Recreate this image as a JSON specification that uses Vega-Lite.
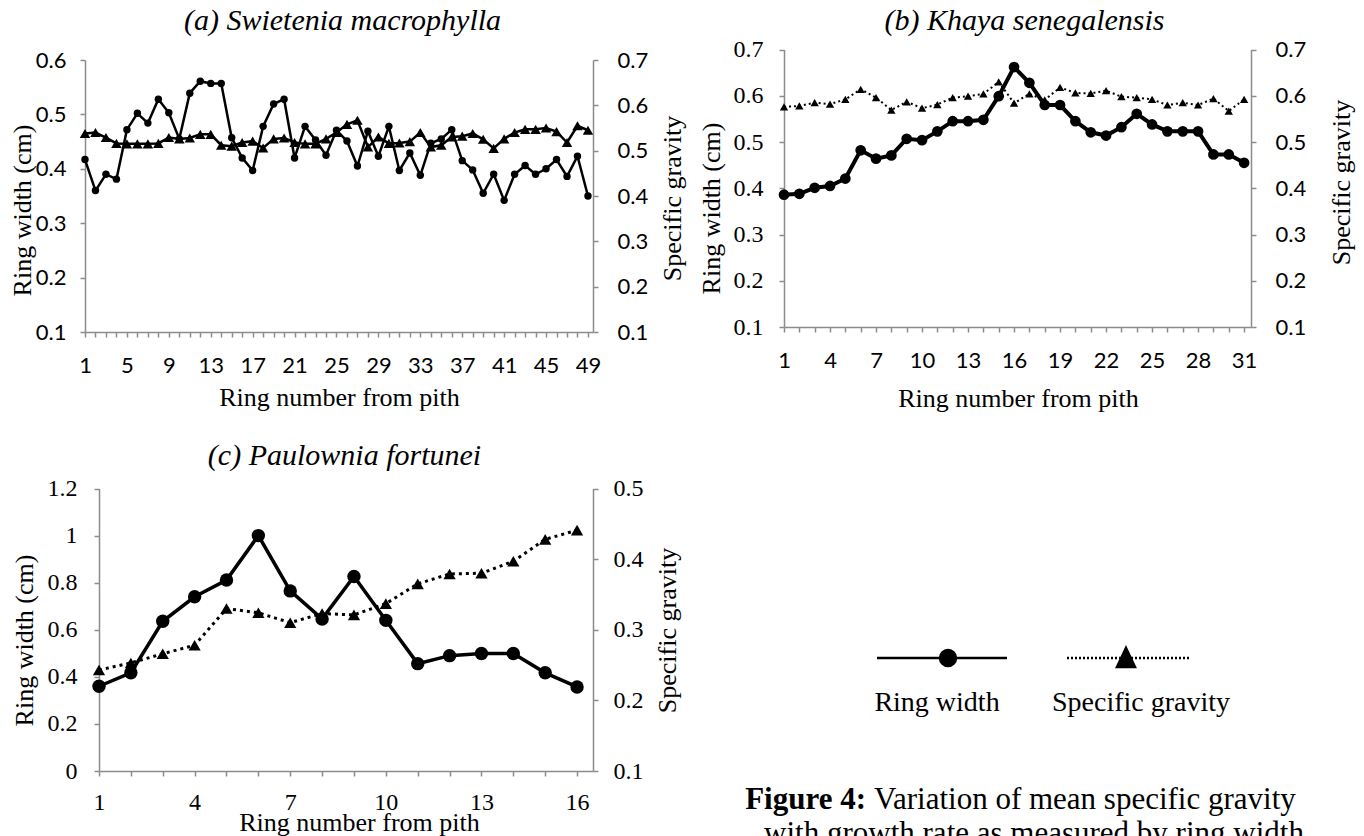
{
  "$schema": "https://vega.github.io/schema/vega-lite/v6.json",
  "width": 1364,
  "height": 836,
  "autosize": {"type": "none"},
  "padding": 0,
  "background": "white",
  "config": {
    "view": {"stroke": null},
    "axis": {"grid": false, "domainColor": "#8c8c8c", "tickColor": "#8c8c8c", "domainWidth": 1.5, "tickWidth": 1.5, "tickSize": 5, "labelColor": "#000000", "titleColor": "#000000", "titleFont": "Liberation Serif", "titleFontSize": 26, "titleFontWeight": "normal", "labelOverlap": false, "labelFlush": false}
  },
  "datasets": {
    "a": [
      {"ring":1,"rw":0.417,"sg":0.538},{"ring":2,"rw":0.36,"sg":0.540},{"ring":3,"rw":0.39,"sg":0.529},{"ring":4,"rw":0.381,"sg":0.516},{"ring":5,"rw":0.472,"sg":0.515},{"ring":6,"rw":0.502,"sg":0.515},{"ring":7,"rw":0.484,"sg":0.515},{"ring":8,"rw":0.528,"sg":0.516},{"ring":9,"rw":0.503,"sg":0.529},{"ring":10,"rw":0.455,"sg":0.526},
      {"ring":11,"rw":0.539,"sg":0.528},{"ring":12,"rw":0.561,"sg":0.536},{"ring":13,"rw":0.557,"sg":0.536},{"ring":14,"rw":0.557,"sg":0.512},{"ring":15,"rw":0.457,"sg":0.510},{"ring":16,"rw":0.42,"sg":0.518},{"ring":17,"rw":0.397,"sg":0.521},{"ring":18,"rw":0.478,"sg":0.506},{"ring":19,"rw":0.519,"sg":0.526},{"ring":20,"rw":0.528,"sg":0.528},
      {"ring":21,"rw":0.42,"sg":0.518},{"ring":22,"rw":0.478,"sg":0.515},{"ring":23,"rw":0.453,"sg":0.515},{"ring":24,"rw":0.425,"sg":0.526},{"ring":25,"rw":0.471,"sg":0.540},{"ring":26,"rw":0.451,"sg":0.558},{"ring":27,"rw":0.405,"sg":0.567},{"ring":28,"rw":0.469,"sg":0.508},{"ring":29,"rw":0.423,"sg":0.530},{"ring":30,"rw":0.478,"sg":0.516},
      {"ring":31,"rw":0.397,"sg":0.517},{"ring":32,"rw":0.429,"sg":0.520},{"ring":33,"rw":0.388,"sg":0.540},{"ring":34,"rw":0.447,"sg":0.508},{"ring":35,"rw":0.455,"sg":0.512},{"ring":36,"rw":0.472,"sg":0.530},{"ring":37,"rw":0.415,"sg":0.532},{"ring":38,"rw":0.398,"sg":0.538},{"ring":39,"rw":0.355,"sg":0.525},{"ring":40,"rw":0.39,"sg":0.505},
      {"ring":41,"rw":0.342,"sg":0.526},{"ring":42,"rw":0.39,"sg":0.540},{"ring":43,"rw":0.406,"sg":0.547},{"ring":44,"rw":0.39,"sg":0.547},{"ring":45,"rw":0.4,"sg":0.550},{"ring":46,"rw":0.417,"sg":0.542},{"ring":47,"rw":0.386,"sg":0.518},{"ring":48,"rw":0.423,"sg":0.555},{"ring":49,"rw":0.35,"sg":0.545}
    ],
    "b": [
      {"ring":1,"rw":0.386,"sg":0.576},{"ring":2,"rw":0.388,"sg":0.578},{"ring":3,"rw":0.401,"sg":0.585},{"ring":4,"rw":0.405,"sg":0.582},{"ring":5,"rw":0.421,"sg":0.592},{"ring":6,"rw":0.482,"sg":0.614},{"ring":7,"rw":0.464,"sg":0.596},{"ring":8,"rw":0.471,"sg":0.569},{"ring":9,"rw":0.507,"sg":0.587},{"ring":10,"rw":0.504,"sg":0.573},
      {"ring":11,"rw":0.523,"sg":0.581},{"ring":12,"rw":0.545,"sg":0.596},{"ring":13,"rw":0.545,"sg":0.599},{"ring":14,"rw":0.548,"sg":0.604},{"ring":15,"rw":0.599,"sg":0.630},{"ring":16,"rw":0.662,"sg":0.584},{"ring":17,"rw":0.628,"sg":0.604},{"ring":18,"rw":0.58,"sg":0.591},{"ring":19,"rw":0.58,"sg":0.618},{"ring":20,"rw":0.545,"sg":0.606},
      {"ring":21,"rw":0.521,"sg":0.605},{"ring":22,"rw":0.514,"sg":0.611},{"ring":23,"rw":0.532,"sg":0.598},{"ring":24,"rw":0.561,"sg":0.596},{"ring":25,"rw":0.538,"sg":0.592},{"ring":26,"rw":0.523,"sg":0.580},{"ring":27,"rw":0.523,"sg":0.585},{"ring":28,"rw":0.523,"sg":0.580},{"ring":29,"rw":0.473,"sg":0.594},{"ring":30,"rw":0.473,"sg":0.567},
      {"ring":31,"rw":0.455,"sg":0.592}
    ],
    "c": [
      {"ring":1,"rw":0.36,"sg":0.243},{"ring":2,"rw":0.417,"sg":0.253},{"ring":3,"rw":0.636,"sg":0.266},{"ring":4,"rw":0.74,"sg":0.278},{"ring":5,"rw":0.811,"sg":0.330},{"ring":6,"rw":1.0,"sg":0.324},{"ring":7,"rw":0.765,"sg":0.310},{"ring":8,"rw":0.646,"sg":0.323},
      {"ring":9,"rw":0.826,"sg":0.321},{"ring":10,"rw":0.64,"sg":0.337},{"ring":11,"rw":0.456,"sg":0.365},{"ring":12,"rw":0.49,"sg":0.379},{"ring":13,"rw":0.499,"sg":0.380},{"ring":14,"rw":0.499,"sg":0.397},{"ring":15,"rw":0.417,"sg":0.428},{"ring":16,"rw":0.357,"sg":0.441}
    ],
    "caption": [
      {"part":"label","line":"1","text":"Figure 4:"},
      {"part":"body","line":"1","text":"Variation of mean specific gravity"},
      {"part":"tail","line":"2","text":"with growth rate as measured by ring width"}
    ]
  },
  "layer": [
    {
      "data": {"name": "a"},
      "mark": {"type": "line", "color": "black", "strokeWidth": 2.5, "point": {"filled": true, "shape": "circle", "size": 55, "color": "black"}},
      "encoding": {
        "x": {"field": "ring", "type": "quantitative", "scale": {"domain": [1, 49.48], "range": [85, 593], "nice": false, "zero": false},
          "axis": {"orient": "bottom", "offset": -504, "values": [1,2,3,4,5,6,7,8,9,10,11,12,13,14,15,16,17,18,19,20,21,22,23,24,25,26,27,28,29,30,31,32,33,34,35,36,37,38,39,40,41,42,43,44,45,46,47,48,49], "format": "d", "labelExpr": "(datum.value - 1) % 4 === 0 ? datum.label : ''", "labelFont": "Lato", "labelFontSize": 22, "labelBaseline": "middle", "labelPadding": 28, "title": "Ring number from pith", "titleX": 339, "titleY": 65, "titleBaseline": "middle", "titleAlign": "center"}},
        "y": {"field": "rw", "type": "quantitative", "scale": {"domain": [0.1, 0.6], "range": [332, 60], "nice": false, "zero": false},
          "axis": {"orient": "left", "offset": -85, "values": [0.1,0.2,0.3,0.4,0.5,0.6], "format": ".1~f", "labelFont": "Lato", "labelFontSize": 22, "labelPadding": 14, "title": "Ring width  (cm)", "titleX": -63, "titleY": 210, "titleAngle": -90, "titleBaseline": "middle", "titleAlign": "center"}}
      }
    },
    {
      "data": {"name": "a"},
      "mark": {"type": "line", "color": "black", "strokeWidth": 2.5, "point": {"filled": true, "shape": "triangle-up", "size": 110, "color": "black"}},
      "encoding": {
        "x": {"field": "ring", "type": "quantitative", "scale": {"domain": [1, 49.48], "range": [85, 593], "nice": false, "zero": false},
          "axis": {"orient": "top", "offset": 0, "domain": false, "ticks": false, "labels": false, "title": "(a) Swietenia macrophylla", "titleFont": "Liberation Serif", "titleFontStyle": "italic", "titleFontSize": 30, "titleX": 342, "titleY": 20, "titleBaseline": "middle", "titleAlign": "center"}},
        "y": {"field": "sg", "type": "quantitative", "scale": {"domain": [0.1, 0.7], "range": [332, 60], "nice": false, "zero": false},
          "axis": {"orient": "right", "offset": -771, "values": [0.1,0.2,0.3,0.4,0.5,0.6,0.7], "format": ".1~f", "labelFont": "Lato", "labelFontSize": 22, "labelPadding": 19, "title": "Specific gravity", "titleX": 79, "titleY": 198, "titleAngle": -90, "titleBaseline": "middle", "titleAlign": "center"}}
      }
    },
    {
      "data": {"name": "b"},
      "mark": {"type": "line", "color": "black", "strokeWidth": 4, "point": {"filled": true, "shape": "circle", "size": 115, "color": "black"}},
      "encoding": {
        "x": {"field": "ring", "type": "quantitative", "scale": {"domain": [1, 31.45], "range": [784, 1251], "nice": false, "zero": false},
          "axis": {"orient": "bottom", "offset": -509, "values": [1,2,3,4,5,6,7,8,9,10,11,12,13,14,15,16,17,18,19,20,21,22,23,24,25,26,27,28,29,30,31], "format": "d", "labelExpr": "(datum.value - 1) % 3 === 0 ? datum.label : ''", "labelFont": "Lato", "labelFontSize": 22, "labelBaseline": "middle", "labelPadding": 28, "title": "Ring number from pith", "titleX": 1018, "titleY": 71, "titleBaseline": "middle", "titleAlign": "center"}},
        "y": {"field": "rw", "type": "quantitative", "scale": {"domain": [0.1, 0.7], "range": [327, 49.5], "nice": false, "zero": false},
          "axis": {"orient": "left", "offset": -784, "values": [0.1,0.2,0.3,0.4,0.5,0.6,0.7], "format": ".1~f", "labelFont": "Liberation Serif", "labelFontSize": 24, "labelPadding": 16, "title": "Ring width (cm)", "titleX": -73, "titleY": 208, "titleAngle": -90, "titleBaseline": "middle", "titleAlign": "center"}}
      }
    },
    {
      "data": {"name": "b"},
      "mark": {"type": "line", "color": "black", "strokeWidth": 2, "strokeDash": [2, 3], "point": {"filled": true, "shape": "triangle-up", "size": 70, "color": "black"}},
      "encoding": {
        "x": {"field": "ring", "type": "quantitative", "scale": {"domain": [1, 31.45], "range": [784, 1251], "nice": false, "zero": false},
          "axis": {"orient": "top", "offset": 0, "domain": false, "ticks": false, "labels": false, "title": "(b) Khaya senegalensis", "titleFont": "Liberation Serif", "titleFontStyle": "italic", "titleFontSize": 30, "titleX": 1024, "titleY": 20, "titleBaseline": "middle", "titleAlign": "center"}},
        "y": {"field": "sg", "type": "quantitative", "scale": {"domain": [0.1, 0.7], "range": [327, 49.5], "nice": false, "zero": false},
          "axis": {"orient": "right", "offset": -113, "values": [0.1,0.2,0.3,0.4,0.5,0.6,0.7], "format": ".1~f", "labelFont": "Lato", "labelFontSize": 22, "labelPadding": 19, "title": "Specific gravity", "titleX": 90, "titleY": 182, "titleAngle": -90, "titleBaseline": "middle", "titleAlign": "center"}}
      }
    },
    {
      "data": {"name": "c"},
      "mark": {"type": "line", "color": "black", "strokeWidth": 3.5, "point": {"filled": true, "shape": "circle", "size": 180, "color": "black"}},
      "encoding": {
        "x": {"field": "ring", "type": "quantitative", "scale": {"domain": [1, 16.5], "range": [99, 593], "nice": false, "zero": false},
          "axis": {"orient": "bottom", "offset": -65, "values": [1,2,3,4,5,6,7,8,9,10,11,12,13,14,15,16], "format": "d", "labelExpr": "(datum.value - 1) % 3 === 0 ? datum.label : ''", "labelFont": "Liberation Serif", "labelFontSize": 24, "labelBaseline": "middle", "labelPadding": 26, "title": "Ring number from pith", "titleX": 359, "titleY": 51, "titleBaseline": "middle", "titleAlign": "center"}},
        "y": {"field": "rw", "type": "quantitative", "scale": {"domain": [0, 1.2], "range": [771, 488.5], "nice": false, "zero": false},
          "axis": {"orient": "left", "offset": -99, "values": [0,0.2,0.4,0.6,0.8,1,1.2], "format": ".1~f", "labelFont": "Liberation Serif", "labelFontSize": 24, "labelPadding": 17, "title": "Ring width (cm)", "titleX": -75, "titleY": 640, "titleAngle": -90, "titleBaseline": "middle", "titleAlign": "center"}}
      }
    },
    {
      "data": {"name": "c"},
      "mark": {"type": "line", "color": "black", "strokeWidth": 3, "strokeDash": [3, 4], "point": {"filled": true, "shape": "triangle-up", "size": 150, "color": "black"}},
      "encoding": {
        "x": {"field": "ring", "type": "quantitative", "scale": {"domain": [1, 16.5], "range": [99, 593], "nice": false, "zero": false},
          "axis": {"orient": "top", "offset": 0, "domain": false, "ticks": false, "labels": false, "title": "(c) Paulownia fortunei", "titleFont": "Liberation Serif", "titleFontStyle": "italic", "titleFontSize": 30, "titleX": 344, "titleY": 455, "titleBaseline": "middle", "titleAlign": "center"}},
        "y": {"field": "sg", "type": "quantitative", "scale": {"domain": [0.1, 0.5], "range": [771, 488.5], "nice": false, "zero": false},
          "axis": {"orient": "right", "offset": -771, "values": [0.1,0.2,0.3,0.4,0.5], "format": ".1~f", "labelFont": "Liberation Serif", "labelFontSize": 24, "labelPadding": 15, "title": "Specific gravity", "titleX": 74, "titleY": 630, "titleAngle": -90, "titleBaseline": "middle", "titleAlign": "center"}}
      }
    },
    {
      "data": {"values": [{"series": "Ring width"}]},
      "mark": {"type": "point", "filled": true, "color": "black", "fill": "black", "stroke": "black", "strokeWidth": 2.5, "opacity": 0},
      "encoding": {
        "shape": {"field": "series", "type": "nominal",
          "scale": {"domain": ["Ring width"], "range": ["M-6,-4.5H7M1.9,-4.5A0.8,0.8 0 1,1 0.3,-4.5A0.8,0.8 0 1,1 1.9,-4.5Z"]},
          "legend": {"orient": "none", "legendX": 923, "legendY": 689, "title": null, "padding": 0, "symbolSize": 400, "symbolStrokeWidth": 2.5, "symbolOpacity": 1, "labelFont": "Liberation Serif", "labelFontSize": 28, "labelColor": "black", "labelAlign": "center", "labelBaseline": "middle", "labelOffset": -14, "labelLimit": 0}}
      }
    },
    {
      "data": {"values": [{"series": "Specific gravity"}]},
      "mark": {"type": "point", "filled": true, "color": "black", "fill": "black", "stroke": "black", "strokeWidth": 2.5, "opacity": 0},
      "encoding": {
        "shape": {"field": "series", "type": "nominal",
          "scale": {"domain": ["Specific gravity"], "range": ["M-7.4,-4.5h0.2m0.2,0h0.2m0.2,0h0.2m0.2,0h0.2m0.2,0h0.2m0.2,0h0.2m0.2,0h0.2m0.2,0h0.2m0.2,0h0.2m0.2,0h0.2m0.2,0h0.2m0.2,0h0.2m0.2,0h0.2m0.2,0h0.2m0.2,0h0.2m0.2,0h0.2m0.2,0h0.2m0.2,0h0.2m0.2,0h0.2m0.2,0h0.2m0.2,0h0.2m0.2,0h0.2m0.2,0h0.2m0.2,0h0.2m0.2,0h0.2m0.2,0h0.2m0.2,0h0.2m0.2,0h0.2m0.2,0h0.2m0.2,0h0.2m0.2,0h0.2M-1.5,-5.5L-0.6,-3.6L-2.4,-3.6Z"]},
          "legend": {"orient": "none", "legendX": 1127, "legendY": 689, "title": null, "padding": 0, "symbolSize": 400, "symbolStrokeWidth": 2.5, "symbolOpacity": 1, "labelFont": "Liberation Serif", "labelFontSize": 28, "labelColor": "black", "labelAlign": "center", "labelBaseline": "middle", "labelOffset": -14, "labelLimit": 0}}
      }
    },
    {
      "data": {"name": "caption"},
      "transform": [{"filter": "datum.part === 'label'"}],
      "mark": {"type": "text", "align": "right", "baseline": "middle", "font": "Liberation Serif", "fontSize": 31, "fontWeight": "bold", "color": "black"},
      "encoding": {
        "x": {"field": "part", "type": "nominal", "scale": {"type": "point", "domain": ["label"], "range": [866, 866], "padding": 0}, "axis": null},
        "y": {"field": "line", "type": "nominal", "scale": {"type": "point", "domain": ["1", "2"], "range": [800, 834], "padding": 0}, "axis": null},
        "text": {"field": "text"}
      }
    },
    {
      "data": {"name": "caption"},
      "transform": [{"filter": "datum.part === 'body'"}],
      "mark": {"type": "text", "align": "left", "baseline": "middle", "font": "Liberation Serif", "fontSize": 31, "color": "black"},
      "encoding": {
        "x": {"field": "part", "type": "nominal", "scale": {"type": "point", "domain": ["body"], "range": [874, 874], "padding": 0}, "axis": null},
        "y": {"field": "line", "type": "nominal", "scale": {"type": "point", "domain": ["1", "2"], "range": [800, 834], "padding": 0}, "axis": null},
        "text": {"field": "text"}
      }
    },
    {
      "data": {"name": "caption"},
      "transform": [{"filter": "datum.part === 'tail'"}],
      "mark": {"type": "text", "align": "center", "baseline": "middle", "font": "Liberation Serif", "fontSize": 31, "color": "black"},
      "encoding": {
        "x": {"field": "part", "type": "nominal", "scale": {"type": "point", "domain": ["tail"], "range": [1034, 1034], "padding": 0}, "axis": null},
        "y": {"field": "line", "type": "nominal", "scale": {"type": "point", "domain": ["1", "2"], "range": [800, 834], "padding": 0}, "axis": null},
        "text": {"field": "text"}
      }
    }
  ],
  "resolve": {
    "scale": {"x": "independent", "y": "independent", "shape": "independent"},
    "axis": {"x": "independent", "y": "independent"},
    "legend": {"shape": "independent"}
  }
}
